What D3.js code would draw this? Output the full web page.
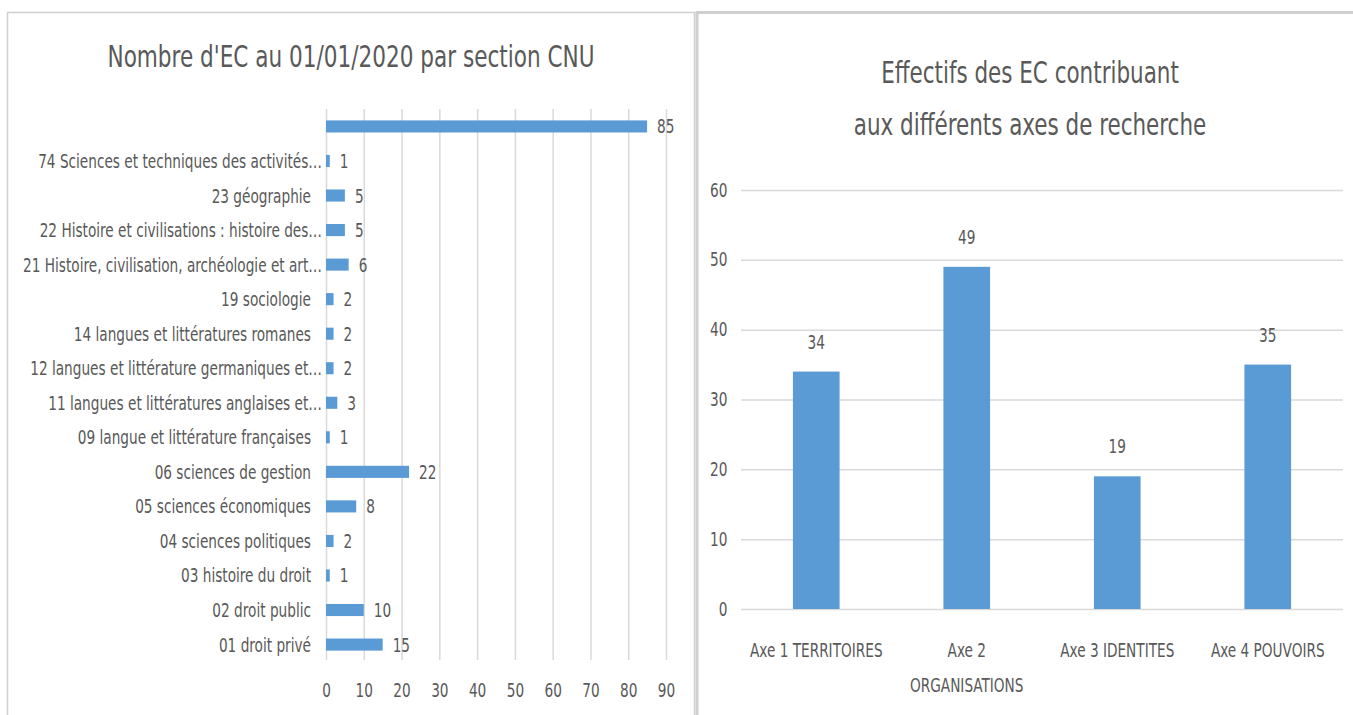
<!DOCTYPE html>
<html>
<head>
<meta charset="utf-8">
<script src="https://cdn.jsdelivr.net/npm/d3@7"></script>
<style>
body { margin: 0; background: #fff; }
svg text { font-family: "DejaVu Sans Condensed", "DejaVu Sans", sans-serif; fill: #595959; }
</style>
</head>
<body>
<div id="chart"></div>
<script>
// left chart : EC per CNU section (listed bottom to top)
var sections = ["01 droit privé", "02 droit public", "03 histoire du droit", "04 sciences politiques",
    "05 sciences économiques", "06 sciences de gestion", "09 langue et littérature françaises",
    "11 langues et littératures anglaises et…", "12 langues et littérature germaniques et…",
    "14 langues et littératures romanes", "19 sociologie", "21 Histoire, civilisation, archéologie et art…",
    "22 Histoire et civilisations : histoire des…", "23 géographie", "74 Sciences et techniques des activités…", ""];
var sectionValues = [15, 10, 1, 2, 8, 22, 1, 3, 2, 2, 2, 6, 5, 5, 1, 85];
var xTicks = [0, 10, 20, 30, 40, 50, 60, 70, 80, 90];

// right chart : research axes
var axes = ["Axe 1 TERRITOIRES", "Axe 2\nORGANISATIONS", "Axe 3 IDENTITES", "Axe 4 POUVOIRS"];
var axeValues = [34, 49, 19, 35];
var yTicks = [0, 10, 20, 30, 40, 50, 60];

var width = 1353, height = 715;
var blue = "#5b9bd5", grid = "#d9d9d9";

var svg = d3.select("#chart").append("svg")
    .attr("width", width)
    .attr("height", height);

// narrow text : the original font is much more condensed than what we have
function label(x, y, str, size, anchor, sx) {
    return svg.append("text")
        .attr("transform", "translate(" + x + "," + y + ") scale(" + sx + ",1)")
        .attr("text-anchor", anchor)
        .style("font-size", size + "px")
        .text(str);
}

// panel borders
svg.append("rect").attr("x", 7.5).attr("y", 12.5).attr("width", 687).attr("height", 710)
    .attr("fill", "none").attr("stroke", "#d0d0d0").attr("stroke-width", 1.5);
svg.append("rect").attr("x", 697).attr("y", 12.5).attr("width", 670).attr("height", 710)
    .attr("fill", "none").attr("stroke", "#cfcfcf").attr("stroke-width", 3);

// ---------- left chart ----------
var rows = sections.map((s, i) => ({ key: i, name: s, v: sectionValues[i] }));

var xScale = d3.scaleLinear().domain([0, 90]).range([326, 666]);
var yBand = d3.scaleBand()
    .domain(rows.map(d => d.key).reverse())
    .range([109, 662])
    .paddingInner(0.65)
    .paddingOuter(0.33);

label(351, 67, "Nombre d'EC au 01/01/2020 par section CNU", 30, "middle", 0.8);

var gx = svg.append("g")
    .attr("transform", "translate(0,660)")
    .call(d3.axisBottom(xScale).tickValues(xTicks).tickSize(-551).tickPadding(24));
gx.select(".domain").remove();
gx.selectAll(".tick line").attr("stroke", grid).attr("stroke-width", 1.5);
gx.selectAll(".tick text").style("font-size", "19px").attr("fill", "#595959")
    .attr("transform", "scale(0.8,1)");

svg.selectAll("rect.hbar")
    .data(rows)
    .enter()
    .append("rect")
    .attr("class", "hbar")
    .attr("x", xScale(0))
    .attr("y", d => yBand(d.key))
    .attr("width", d => xScale(d.v) - xScale(0))
    .attr("height", yBand.bandwidth())
    .attr("fill", blue);

rows.forEach(d => {
    var cy = yBand(d.key) + yBand.bandwidth() / 2 + 7;
    label(xScale(d.v) + 10, cy, d.v, 19, "start", 0.8);
    label(d.name.endsWith("…") ? 322 : 311, cy, d.name, 19, "end", 0.8);
});

// ---------- right chart ----------
var cols = axes.map((a, i) => ({ name: a, v: axeValues[i] }));

var xBand = d3.scaleBand()
    .domain(axes)
    .range([741, 1343])
    .paddingInner(0.69)
    .paddingOuter(0.345);
var yScale = d3.scaleLinear().domain([0, 60]).range([609, 190]);

label(1030, 83, "Effectifs des EC contribuant", 31, "middle", 0.77);
label(1030, 135, "aux différents axes de recherche", 31, "middle", 0.77);

var gy = svg.append("g")
    .attr("transform", "translate(741,0)")
    .call(d3.axisLeft(yScale).tickValues(yTicks).tickSize(-602).tickPadding(17));
gy.select(".domain").remove();
gy.selectAll(".tick line").attr("stroke", grid).attr("stroke-width", 1.5);
gy.selectAll(".tick text").style("font-size", "19px").attr("fill", "#595959")
    .attr("transform", "scale(0.8,1)");

svg.selectAll("rect.vbar")
    .data(cols)
    .enter()
    .append("rect")
    .attr("class", "vbar")
    .attr("x", d => xBand(d.name))
    .attr("y", d => yScale(d.v))
    .attr("width", xBand.bandwidth())
    .attr("height", d => yScale(0) - yScale(d.v))
    .attr("fill", blue);

cols.forEach(d => {
    var cx = xBand(d.name) + xBand.bandwidth() / 2;
    label(cx, yScale(d.v) - 23, d.v, 19, "middle", 0.8);
    d.name.split("\n").forEach((t, i) => label(cx, 657 + i * 35, t, 19, "middle", 0.8));
});
</script>
</body>
</html>
